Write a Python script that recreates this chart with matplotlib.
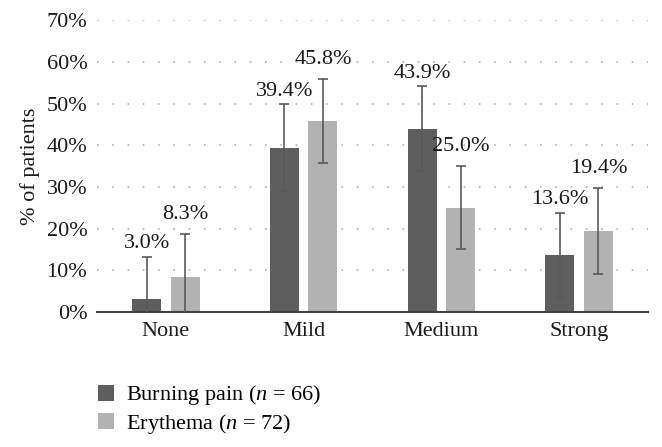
import matplotlib
matplotlib.use("Agg")
import matplotlib.pyplot as plt
import numpy as np

categories = ["None", "Mild", "Medium", "Strong"]
burning = [3.0, 39.4, 43.9, 13.6]
erythema = [8.3, 45.8, 25.0, 19.4]
burning_err = [10.2, 10.4, 10.2, 10.2]
erythema_err = [10.3, 10.0, 10.0, 10.3]
yticks = [0, 10, 20, 30, 40, 50, 60, 70]

plt.rcParams['font.family'] = ['Liberation Serif', 'DejaVu Serif']
plt.rcParams['mathtext.fontset'] = 'custom'
plt.rcParams['mathtext.it'] = 'Liberation Serif:italic'
plt.rcParams['mathtext.rm'] = 'Liberation Serif'

fig = plt.figure(figsize=(6.62, 4.47), dpi=100)
ax = fig.add_axes([0.1465, 0.302, 0.8325, 0.653])

dark = "#5e5e5e"
light = "#b2b2b2"
ecol = "#5a5a5a"
x = np.arange(len(categories))
w = 0.21
off = 0.14

ax.bar(x - off, burning, w, color=dark, label=r"Burning pain ($n$ = 66)", zorder=2)
ax.bar(x + off, erythema, w, color=light, label=r"Erythema ($n$ = 72)", zorder=2)
ax.errorbar(x - off, burning, yerr=burning_err, fmt="none", ecolor=ecol, elinewidth=1.2, capsize=3.5, capthick=1.2, zorder=3)
ax.errorbar(x + off, erythema, yerr=erythema_err, fmt="none", ecolor=ecol, elinewidth=1.2, capsize=3.5, capthick=1.2, zorder=3)

fs = 16
for xi, v, e in zip(x - off, burning, burning_err):
    ax.text(xi, v + e + 0.9, f"{v:.1f}%", ha="center", va="bottom", fontsize=fs, color="#1a1a1a")
for xi, v, e in zip(x + off, erythema, erythema_err):
    ax.text(xi, v + e + 2.5, f"{v:.1f}%", ha="center", va="bottom", fontsize=fs, color="#1a1a1a")

ax.set_xlim(-0.5, len(categories) - 0.5)
ax.set_ylim(0, 70)
ax.set_yticks(yticks)
ax.set_yticklabels([f"{t}%" for t in yticks], fontsize=fs, color="#1a1a1a")
ax.set_xticks(x)
ax.set_xticklabels(categories, fontsize=fs, color="#1a1a1a")
ax.tick_params(axis="y", length=0, pad=7)
ax.tick_params(axis="x", length=0, pad=7)
ax.set_ylabel("% of patients", fontsize=fs, color="#1a1a1a", labelpad=5)

for t in yticks[1:]:
    ax.axhline(t, color="#a8a8a8", linestyle=(0, (1, 9)), linewidth=1.1, zorder=1)
for s in ["top", "right", "left"]:
    ax.spines[s].set_visible(False)
ax.spines["bottom"].set_color("#404040")
ax.spines["bottom"].set_linewidth(1.5)

fig.legend(loc="upper left", bbox_to_anchor=(0.134, 0.162), frameon=False, fontsize=fs,
           handlelength=0.75, handleheight=0.75, handletextpad=0.55, labelspacing=0.2, borderaxespad=0)

fig.savefig("out.png", dpi=100)
